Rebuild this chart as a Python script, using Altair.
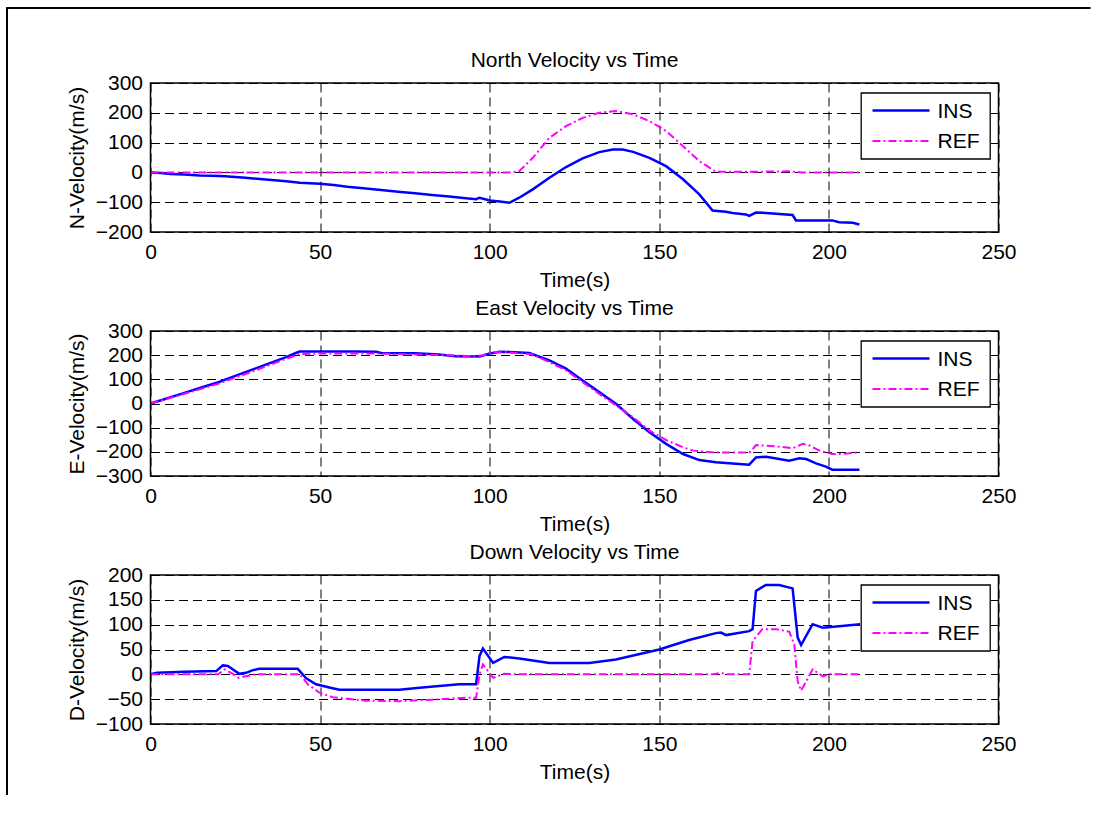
import altair as alt
import pandas as pd

FONT = "Liberation Sans"
FS = 21
BLUE = "#0000ff"
MAG = "#ff00ff"
DASHDOT = [8, 3, 2, 3]
GRIDDASH = [9, 5]
X_TICKS = [0, 50, 100, 150, 200, 250]
PLOT_W = 848

# ---- North velocity ----
north_ins_t = [0, 3, 6, 10, 14.5, 18, 22, 28, 34, 40, 44, 50, 54, 58, 63.5, 68, 73, 78, 83, 88, 93, 96, 97, 100, 103,
               105.8, 108.7, 112.7, 117.6, 122.5, 127.4, 132.3, 136.3, 139.2, 142.3, 147.1, 152, 157, 161.8, 165.7,
               169.6, 171.6, 175.5, 176.5, 178.5, 181.5, 189.3, 190.3, 201, 203, 207, 209]
north_ins_v = [0, -2, -5, -7, -10, -11, -13, -18, -24, -30, -35, -38, -42, -48, -54, -59, -65, -70, -76, -81, -87, -90,
               -85, -94, -98, -102, -85, -57, -18, 18, 47, 68, 77, 77, 69, 49, 21, -23, -74, -128,
               -132, -136, -141, -146, -135, -136, -143, -161, -161, -167, -169, -175]
north_ref_t = [0, 105.8, 108.7, 112.7, 117.6, 122.5, 127.4, 132.3, 137.2, 142.3, 147.1, 152, 157, 161.8, 166.7,
               175, 185, 188, 192, 200, 209]
north_ref_v = [0, 0, 4, 49, 116, 155, 183, 200, 206, 195, 172, 139, 88, 38, 2, 2, 3, 4, 0, 0, 0]

# ---- East velocity ----
east_ins_t = [0, 5, 10, 15, 20, 25, 30, 35, 40, 43, 44, 50, 60, 66.5, 68, 78, 85, 90, 97, 100, 103, 105.8, 111.7,
              117.6, 122.5, 127.4, 132.3, 137.2, 142.3, 147.1, 152, 157, 161.8, 166.7, 171.6, 176.5, 178.5, 181.5,
              188.3, 191.3, 193.3, 196.2, 199.1, 201, 209]
east_ins_v = [0, 22, 44, 66, 88, 114, 140, 166, 192, 210, 215, 215, 215, 214, 209, 208, 203, 196, 194, 207, 214, 213,
              209, 178, 144, 95, 47, -1, -64, -119, -167, -209, -234, -243, -248, -253, -223, -220,
              -237, -227, -230, -248, -261, -274, -274]
east_ref_t = [0, 10, 20, 30, 40, 44, 50, 66, 78, 88, 95, 98, 101, 105, 112.7, 117.6, 122.5, 127.4, 132.3, 137.2,
              142.3, 147.1, 152, 157, 160, 166.7, 176.5, 177.5, 178.5, 184.4, 189.3, 192.3, 194.3, 197.2, 201, 204, 209]
east_ref_v = [0, 40, 82, 132, 185, 205, 207, 207, 203, 200, 195, 200, 212, 212, 203, 171, 137, 88, 40, -8,
              -57, -112, -151, -181, -195, -203, -203, -190, -172, -177, -185, -167, -174, -195, -209, -209, -202]

# ---- Down velocity ----
down_ins_t = [0, 2, 10, 19.4, 21.3, 22.8, 26.2, 28.2, 30, 32, 43.4, 45.9, 48.8, 53.7, 55.7, 73.4, 79.3, 86, 91, 96,
              97, 98, 101, 104.3, 108.7, 112.7, 117.6, 129.4, 137.2, 150, 158.8, 166.7, 168.2, 169.7, 176.5, 177.5,
              178.5, 181.4, 185.3, 189.3, 190.8, 191.8, 195.2, 198.2, 203, 209.2]
down_ins_v = [0, 3, 5, 6.5, 18, 17, 1, 3, 8, 11, 11, -8, -20, -28, -31, -31, -27, -23, -20, -20,
              37, 52, 23, 35, 32, 28, 23, 23, 30, 50, 69, 83, 84, 79, 87, 91,
              168, 180, 180, 173, 74, 59, 101, 94, 97, 101]
down_ref_t = [0, 20, 21.8, 24, 26, 28, 31, 44, 46.4, 49.8, 53.7, 63.5, 73.4, 83, 93, 96, 97, 98, 101, 104.3, 107.8,
              166, 168, 170, 176.5, 177.5, 180.4, 184.3, 188.3, 189.8, 190.8, 191.8, 195.2, 198.2, 200, 209.2]
down_ref_v = [0, 0, 10, 2, -7, -4, 0, 0, -20, -37, -46, -53, -54, -51, -47, -47, 0, 20, -7, 1, 0,
              0, 3, 0, 0, 67, 91, 91, 86, 60, -14, -33, 10, -4, 0, 0]

legend_labels = ["INS", "REF"]

one = pd.DataFrame({"k": [0]})


def make_panel(title, ylabel, ins_t, ins_v, ref_t, ref_v, ydomain, yticks, height, frame=False):
    ins = pd.DataFrame({"t": ins_t, "v": ins_v})
    ref = pd.DataFrame({"t": ref_t, "v": ref_v})
    xenc = alt.X("t:Q", scale=alt.Scale(domain=[0, 250], nice=False, zero=False),
                 axis=alt.Axis(values=X_TICKS, tickCount=20, title="Time(s)", labelFont=FONT, labelFontSize=FS,
                               labelColor="black", titleFont=FONT, titleFontSize=FS, titleFontWeight="normal",
                               titleColor="black", domain=False, ticks=False, grid=True, gridColor="black",
                               gridDash=GRIDDASH, gridWidth=1, gridOpacity=1, labelPadding=9, labelFlush=False,
                               labelOverlap=False, titleBaseline="alphabetic", titleY=54, format="d"))
    yenc = alt.Y("v:Q", scale=alt.Scale(domain=ydomain, nice=False, zero=False),
                 axis=alt.Axis(values=yticks, tickCount=20, title=ylabel, labelFont=FONT, labelFontSize=FS,
                               labelColor="black", titleFont=FONT, titleFontSize=FS, titleFontWeight="normal",
                               titleColor="black", domain=False, ticks=False, grid=True, gridColor="black",
                               gridDash=GRIDDASH, gridWidth=1, gridOpacity=1, labelPadding=8, labelFlush=False,
                               labelOverlap=False, titleBaseline="alphabetic", titleX=-67, format="d"))
    ins_line = alt.Chart(ins).mark_line(color=BLUE, strokeWidth=2.5).encode(x=xenc, y=yenc)
    ref_line = alt.Chart(ref).mark_line(color=MAG, strokeWidth=2, strokeDash=DASHDOT).encode(
        x="t:Q", y="v:Q")
    axes_box = alt.Chart(one).mark_rect(fillOpacity=0, stroke="black", strokeWidth=1.5).encode(
        x=alt.value(0), x2=alt.value(PLOT_W), y=alt.value(0), y2=alt.value(height))
    title_txt = alt.Chart(one).mark_text(align="center", baseline="alphabetic", font=FONT, fontSize=FS,
                                         color="black").encode(
        x=alt.value(PLOT_W / 2), y=alt.value(-16), text=alt.value(title))
    box = alt.Chart(one).mark_rect(fill="white", stroke="black", strokeWidth=1.3).encode(
        x=alt.value(710.7), x2=alt.value(839.7), y=alt.value(10), y2=alt.value(76))
    leg_ins = alt.Chart(one).mark_rule(color=BLUE, strokeWidth=2.5).encode(
        x=alt.value(722), x2=alt.value(779), y=alt.value(27.5))
    leg_ref = alt.Chart(one).mark_rule(color=MAG, strokeWidth=2, strokeDash=DASHDOT).encode(
        x=alt.value(722), x2=alt.value(779), y=alt.value(58))
    txt_ins = alt.Chart(one).mark_text(align="left", baseline="middle", font=FONT, fontSize=FS,
                                       color="black").encode(
        x=alt.value(787), y=alt.value(28.5), text=alt.value(legend_labels[0]))
    txt_ref = alt.Chart(one).mark_text(align="left", baseline="middle", font=FONT, fontSize=FS,
                                       color="black").encode(
        x=alt.value(787), y=alt.value(59), text=alt.value(legend_labels[1]))
    layers = [ins_line, ref_line, axes_box, title_txt, box, leg_ins, leg_ref, txt_ins, txt_ref]
    if frame:
        f_left = alt.Chart(one).mark_rule(color="black", strokeWidth=2).encode(
            x=alt.value(-143.5), y=alt.value(-75.1), y2=alt.value(712))
        f_top = alt.Chart(one).mark_rule(color="black", strokeWidth=2).encode(
            x=alt.value(-144.5), x2=alt.value(940), y=alt.value(-75.1))
        layers += [f_left, f_top]
    return alt.layer(*layers).properties(width=PLOT_W, height=height)


p1 = make_panel("North Velocity vs Time", "N-Velocity(m/s)", north_ins_t, north_ins_v, north_ref_t, north_ref_v,
                [-200, 300], [-200, -100, 0, 100, 200, 300], 149, frame=True)
p2 = make_panel("East Velocity vs Time", "E-Velocity(m/s)", east_ins_t, east_ins_v, east_ref_t, east_ref_v,
                [-300, 300], [-300, -200, -100, 0, 100, 200, 300], 145)
p3 = make_panel("Down Velocity vs Time", "D-Velocity(m/s)", down_ins_t, down_ins_v, down_ref_t, down_ref_v,
                [-100, 200], [-100, -50, 0, 50, 100, 150, 200], 149)

chart = alt.vconcat(p1, p2, p3, spacing=99, bounds="flush").properties(
    padding={"left": 4.5, "top": 6, "right": 0, "bottom": 0}
).configure(background="white").configure_view(stroke="transparent", strokeWidth=0)

chart.save("out.html", embed_options={"renderer": "svg", "actions": False})
